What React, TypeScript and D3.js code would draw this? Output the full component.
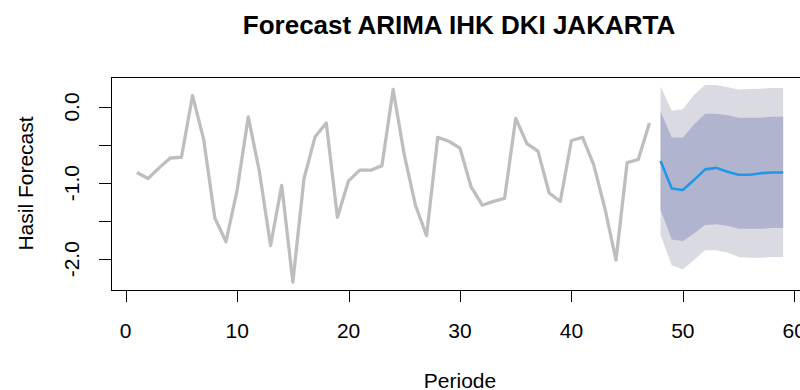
import React from "react";
import * as d3 from "d3";

const histPeriods = d3.range(1, 48);
const histValues = [
  -0.86, -0.94, -0.80, -0.67, -0.66, 0.15, -0.43, -1.46, -1.77, -1.09,
  -0.13, -0.85, -1.82, -1.03, -2.30, -0.94, -0.39, -0.21, -1.45, -0.97,
  -0.83, -0.83, -0.77, 0.23, -0.63, -1.29, -1.69, -0.40, -0.45, -0.54,
  -1.05, -1.29, -1.24, -1.20, -0.15, -0.48, -0.58, -1.13, -1.24, -0.44,
  -0.40, -0.76, -1.33, -2.01, -0.73, -0.69, -0.21,
];

const fcPeriods = d3.range(48, 60);
const fcMean = [-0.71, -1.07, -1.09, -0.96, -0.82, -0.80, -0.85, -0.89, -0.89, -0.87, -0.86, -0.86];
const lo80 = [-1.35, -1.74, -1.76, -1.66, -1.55, -1.54, -1.56, -1.60, -1.60, -1.60, -1.59, -1.59];
const hi80 = [-0.06, -0.40, -0.40, -0.23, -0.09, -0.09, -0.11, -0.14, -0.14, -0.14, -0.13, -0.13];
const lo95 = [-1.68, -2.08, -2.13, -2.01, -1.88, -1.88, -1.91, -1.97, -1.98, -1.98, -1.97, -1.97];
const hi95 = [0.27, -0.05, -0.03, 0.16, 0.29, 0.29, 0.26, 0.23, 0.235, 0.24, 0.25, 0.25];

const xTicks = [0, 10, 20, 30, 40, 50, 60];
const yTicks = [0, -0.5, -1, -1.5, -2];
const yTickLabels = ["0.0", "", "-1.0", "", "-2.0"];

const title = "Forecast ARIMA IHK DKI JAKARTA";
const xLabel = "Periode";
const yLabel = "Hasil Forecast";

export default function App() {
  const W = 800, H = 390;
  const left = 111, right = 809, top = 77, bottom = 290;
  const font = "'Liberation Sans', Arial, sans-serif";

  const xMin = d3.min([...histPeriods, ...fcPeriods])!;
  const xMax = d3.max([...histPeriods, ...fcPeriods])!;
  const xPad = (xMax - xMin) * 0.04;
  const allY = [...histValues, ...lo95, ...hi95];
  const yMin = d3.min(allY)!;
  const yMax = d3.max(allY)!;
  const yPad = (yMax - yMin) * 0.04;

  const x = d3.scaleLinear().domain([xMin - xPad, xMax + xPad]).range([left, right]);
  const y = d3.scaleLinear().domain([yMin - yPad, yMax + yPad]).range([bottom, top]);

  const line = d3.line<[number, number]>().x((d) => x(d[0])).y((d) => y(d[1]));

  const band = (lo: number[], hi: number[]) =>
    d3
      .area<number>()
      .x((p) => x(p))
      .y0((_, i) => y(lo[i]))
      .y1((_, i) => y(hi[i]))(fcPeriods) || "";

  const histPath = line(histPeriods.map((p, i) => [p, histValues[i]])) || "";
  const fcPath = line(fcPeriods.map((p, i) => [p, fcMean[i]])) || "";

  return (
    <svg
      width={W}
      height={H}
      style={{ position: "absolute", left: 0, top: 0, background: "#fff" }}
      fontFamily={font}
    >
      <rect x={0} y={0} width={W} height={H} fill="#fff" />
      <path d={band(lo95, hi95)} fill="#DADAE2" />
      <path d={band(lo80, hi80)} fill="#B0B4CE" />
      <path d={histPath} fill="none" stroke="#BEBEBE" strokeWidth={3.3} strokeLinejoin="round" />
      <path d={fcPath} fill="none" stroke="#2297E6" strokeWidth={2.6} strokeLinejoin="round" />

      <rect x={left + 0.5} y={top + 0.5} width={right - left} height={bottom - top} fill="none" stroke="#000" strokeWidth={1} />

      {/* x axis */}
      <line x1={x(xTicks[0])} x2={x(xTicks[xTicks.length - 1])} y1={bottom + 0.5} y2={bottom + 0.5} stroke="#000" />
      {xTicks.map((t) => (
        <g key={t}>
          <line x1={Math.round(x(t)) + 0.5} x2={Math.round(x(t)) + 0.5} y1={bottom} y2={bottom + 12} stroke="#000" />
          <text x={x(t)} y={337.5} fontSize={21} textAnchor="middle" fill="#000">
            {t}
          </text>
        </g>
      ))}

      {/* y axis */}
      <line x1={left + 0.5} x2={left + 0.5} y1={y(yTicks[0])} y2={y(yTicks[yTicks.length - 1])} stroke="#000" />
      {yTicks.map((t, i) => (
        <g key={t}>
          <line x1={left - 12} x2={left} y1={Math.round(y(t)) + 0.5} y2={Math.round(y(t)) + 0.5} stroke="#000" />
          {yTickLabels[i] && (
            <text
              transform={`translate(79,${y(t)}) rotate(-90)`}
              fontSize={21}
              textAnchor="middle"
              fill="#000"
            >
              {yTickLabels[i]}
            </text>
          )}
        </g>
      ))}

      <text x={(left + right) / 2 - 1} y={33.5} fontSize={26} fontWeight="bold" textAnchor="middle" fill="#000">
        {title}
      </text>
      <text x={(left + right) / 2} y={388} fontSize={21} textAnchor="middle" fill="#000">
        {xLabel}
      </text>
      <text
        transform={`translate(33,${(top + bottom) / 2}) rotate(-90)`}
        fontSize={21}
        textAnchor="middle"
        fill="#000"
      >
        {yLabel}
      </text>
    </svg>
  );
}
